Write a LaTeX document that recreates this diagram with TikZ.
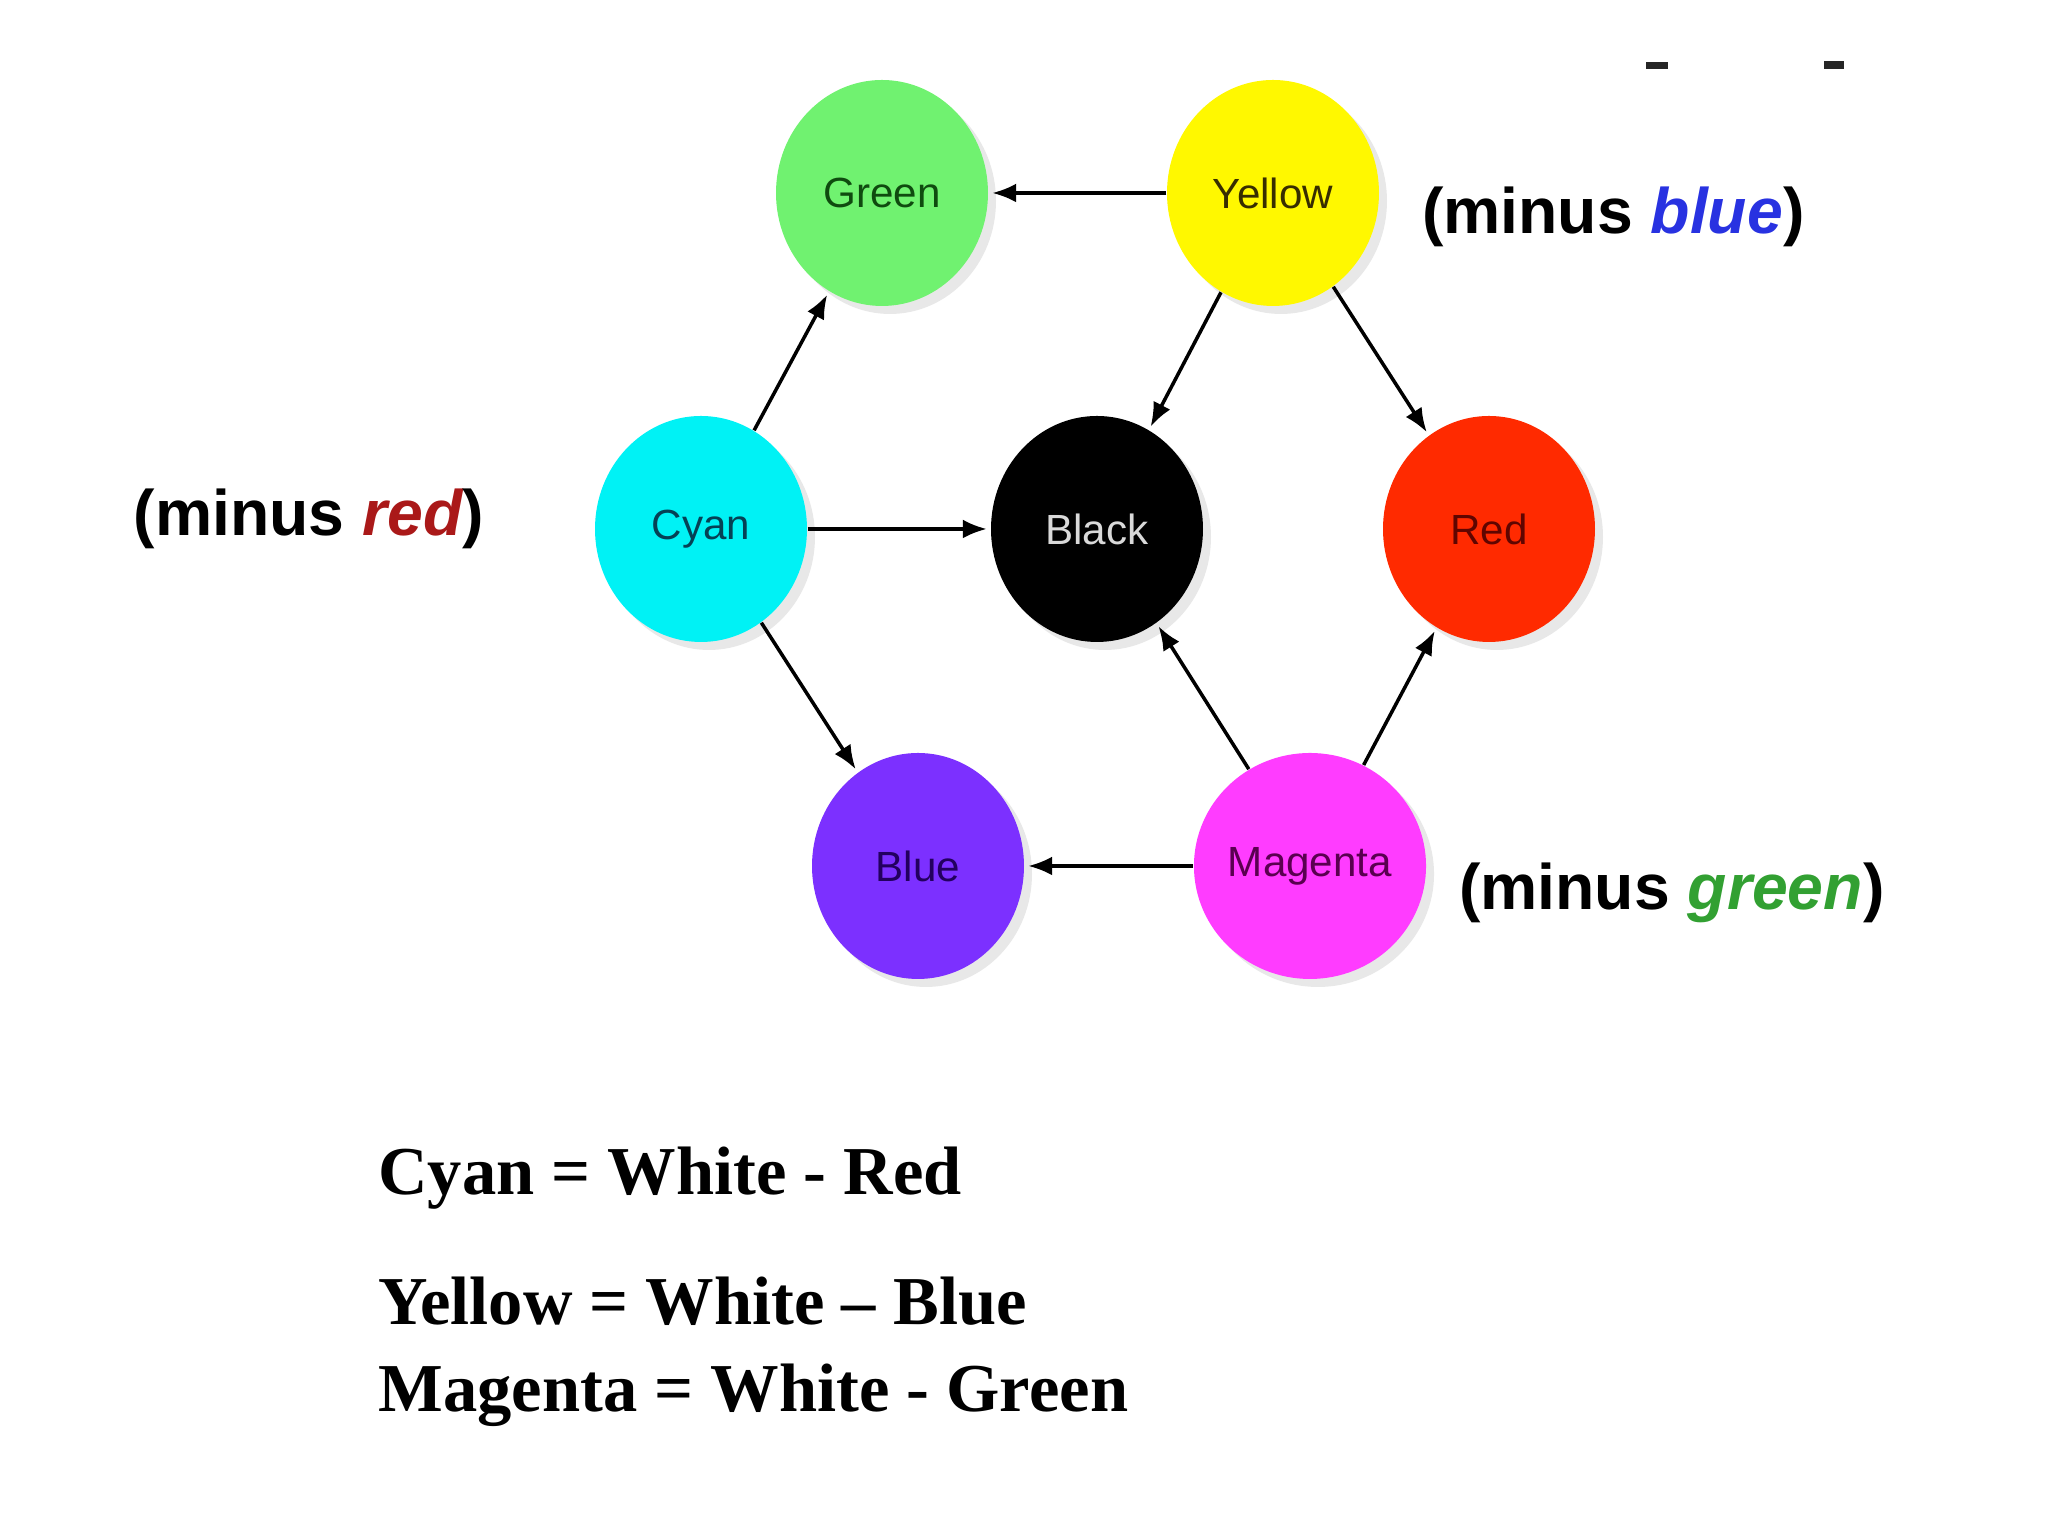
\documentclass[tikz,border=0pt]{standalone}
\usepackage{fontspec}
\usepackage{xcolor}
\setmainfont{Liberation Serif}
\newfontfamily\labelfont{Liberation Sans}
\usetikzlibrary{arrows.meta, positioning, shapes.geometric, shadows}

\definecolor{cgreen}{RGB}{112,242,112}
\definecolor{cyellow}{RGB}{255,248,0}
\definecolor{ccyan}{RGB}{0,242,245}
\definecolor{cred}{RGB}{255,42,0}
\definecolor{cblue}{RGB}{124,48,255}
\definecolor{cmagenta}{RGB}{255,60,255}
\definecolor{tgreen}{RGB}{15,75,15}
\definecolor{tyellow}{RGB}{55,45,0}
\definecolor{tcyan}{RGB}{5,65,85}
\definecolor{tred}{RGB}{95,5,0}
\definecolor{tblue}{RGB}{35,0,95}
\definecolor{tmagenta}{RGB}{90,0,80}
\definecolor{mred}{RGB}{170,25,25}
\definecolor{mblue}{RGB}{40,50,225}
\definecolor{mgreen}{RGB}{50,160,50}

\begin{document}
\begin{tikzpicture}[
        disc/.style={ellipse, minimum width=2.12cm, minimum height=2.26cm, inner sep=0pt, font=\labelfont\fontsize{12}{14}\selectfont, drop shadow={opacity=0.18, shadow xshift=0.08cm, shadow yshift=-0.08cm}},
        arrow/.style={-{Latex[length=2.4mm, width=1.9mm]}, line width=1pt, shorten >=1pt},
        note/.style={font=\labelfont\bfseries\fontsize{18.3}{22}\selectfont},
        eqn/.style={anchor=west, font=\bfseries\fontsize{19.5}{23}\selectfont},
    ]
        \useasboundingbox (0,0) rectangle (20.48,15.36);

        \node[disc, fill=cgreen, text=tgreen] (green) at (8.82,13.43) {Green};
        \node[disc, fill=cyellow, text=tyellow] (yellow) at (12.73,13.43) {Yellow};
        \node[disc, fill=ccyan, text=tcyan] (cyan) at (7.01,10.07) {Cyan};
        \node[disc, fill=black, text=black!15] (black) at (10.97,10.07) {Black};
        \node[disc, fill=cred, text=tred] (red) at (14.89,10.07) {Red};
        \node[disc, fill=cblue, text=tblue] (blue) at (9.18,6.70) {Blue};
        \node[disc, fill=cmagenta, text=tmagenta] (magenta) at (13.10,6.70) {Magenta};

        \node[note, left=0.98cm of cyan, yshift=0.1cm] (minusred) {(minus \textcolor{mred}{\itshape red})};
        \node[note, right=0.3cm of yellow, yshift=-0.24cm] (minusblue) {(minus \textcolor{mblue}{\itshape blue})};
        \node[note, right=0.2cm of magenta, yshift=-0.27cm] (minusgreen) {(minus \textcolor{mgreen}{\itshape green})};

        \draw[arrow] (yellow) -- (green);
        \draw[arrow] (cyan) -- (green);
        \draw[arrow] (yellow) -- (black);
        \draw[arrow] (yellow) -- (red);
        \draw[arrow] (cyan) -- (black);
        \draw[arrow] (magenta) -- (black);
        \draw[arrow] (magenta) -- (red);
        \draw[arrow] (cyan) -- (blue);
        \draw[arrow] (magenta) -- (blue);

        \node[eqn] (cyaneq) at (3.66,3.58) {Cyan = White - Red};
        \node[eqn] (yelloweq) at (3.66,2.35) {Yellow = White -- Blue};
        \node[eqn] (magentaeq) at (3.66,1.41) {Magenta = White - Green};

        % stray marks top right
        \fill[black!85] (16.46,14.67) rectangle (16.68,14.74);
        \fill[black!85] (18.24,14.67) rectangle (18.44,14.75);
    \end{tikzpicture}
\end{document}
